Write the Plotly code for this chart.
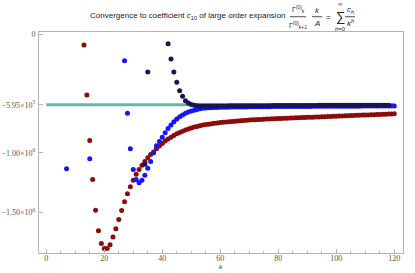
import plotly.graph_objects as go

# ---------------- data ----------------
red_k = list(range(13, 121))
red_v = [-91, -512, -896, -1225, -1483, -1657, -1763, -1806, -1806, -1775,
         -1710, -1640, -1561, -1486, -1412, -1345, -1286, -1231, -1180, -1141,
         -1104, -1073, -1042, -1014, -992,
         -966, -943, -921, -901, -884, -868, -853, -840, -828, -817,
         -807, -798, -790, -783, -777, -771, -766, -762, -758, -754,
         -751, -748, -745, -742, -740, -737, -735, -733, -731, -729,
         -727, -725, -724, -722, -721, -719, -718, -717, -715, -714,
         -713, -712, -711, -710, -709, -708, -707, -706, -705, -704,
         -703, -702, -701, -700, -699, -698, -697, -696, -695, -694,
         -693, -692, -691, -690, -689, -688, -687, -686, -685, -684,
         -683, -682, -681, -680, -679, -678, -677, -676, -675, -674,
         -673, -672, -671]

blue_k = [7, 15] + list(range(27, 121))
blue_v = [-1135, -1050,
          -223, -667, -966, -1141, -1225, -1253, -1231, -1189, -1130, -1073,
          -1000, -940, -905, -868, -830, -795, -765, -738, -715, -696,
          -680, -667, -656, -647, -640, -634, -629, -625, -622, -620,
          -619, -618, -617, -616, -616, -615, -615, -614, -614, -614,
          -613, -613, -613, -612, -612, -612, -612, -611, -611, -611,
          -611, -610, -610, -610, -610, -610, -610, -610, -609, -609,
          -609, -609, -609, -609, -609, -608, -608, -608, -608, -608,
          -608, -608, -608, -607, -607, -607, -607, -607, -607, -607,
          -607, -607, -606, -606, -606, -606, -606, -606, -606, -606,
          -606, -606, -606, -606]

navy_k = [34, 35] + list(range(42, 121))
navy_v = [-1095, -318,
          -80, -209, -318, -405, -476, -523, -560, -580,
          -592, -599, -603, -605, -606, -606, -606, -606, -605, -605,
          -605, -605, -605, -604, -604, -604, -604, -604, -603, -603,
          -603, -603, -603, -602, -602, -602, -602, -602, -601, -601,
          -601, -601, -601, -601, -601, -600, -600, -600, -600, -600,
          -600, -600, -600, -600, -599, -599, -599, -599, -599, -599,
          -599, -599, -599, -599, -599, -599, -599, -598, -598, -598,
          -598, -598, -598, -598, -598, -598, -598, -598, -598]

target_k = [0, 120]
target_v = [-595, -595]

y_ticks = [0, -595000, -1000000, -1500000]
y_text = ["0", "\u22125.95\u00d710<sup>5</sup>", "\u22121.00\u00d710<sup>6</sup>",
          "\u22121.50\u00d710<sup>6</sup>"]
x_ticks = [0, 20, 40, 60, 80, 100, 120]

scale = 1000

W, H = 415, 273
L, R, T, B = 39, 12, 32, 19.5


def px(x):
    return (x - L) / (W - L - R)


def py(y):
    return (H - B - y) / (H - T - B)


fig = go.Figure()
fig.add_trace(go.Scatter(x=target_k, y=[v * scale for v in target_v], mode="lines",
                         line=dict(color="#6db3ad", width=3), hoverinfo="skip"))
fig.add_trace(go.Scatter(x=red_k, y=[v * scale for v in red_v], mode="markers",
                         marker=dict(color="#8c0b0b", size=5)))
fig.add_trace(go.Scatter(x=blue_k, y=[v * scale for v in blue_v], mode="markers",
                         marker=dict(color="#1414ff", size=5)))
fig.add_trace(go.Scatter(x=navy_k, y=[v * scale for v in navy_v], mode="markers",
                         marker=dict(color="#161650", size=5)))

axis_common = dict(showgrid=False, zeroline=False, showline=True, mirror=True,
                   linecolor="#b4b4b4", linewidth=1, ticks="inside",
                   tickcolor="#b4b4b4", ticklen=4, automargin=False,
                   tickfont=dict(family="Liberation Serif", size=8, color="#555555"))

fig.update_layout(
    width=W, height=H,
    margin=dict(l=L, r=R, t=T, b=B),
    plot_bgcolor="white", paper_bgcolor="white",
    showlegend=False,
    xaxis=dict(range=[-2.5, 123], tickvals=x_ticks, ticklabelstandoff=-3,
               minor=dict(dtick=5, ticks="inside", ticklen=2, tickcolor="#b4b4b4"),
               **axis_common),
    yaxis=dict(range=[-1844000, 18500], tickvals=y_ticks, ticktext=y_text,
               ticklabelstandoff=1, **axis_common),
)

ann = []


def add(text, x, y, size=8, xanchor="center", italic=False, family="Liberation Sans"):
    if italic:
        text = "<i>" + text + "</i>"
    ann.append(dict(text=text, x=px(x), y=py(y), xref="paper", yref="paper",
                    xanchor=xanchor, yanchor="middle", showarrow=False,
                    font=dict(family=family, size=size, color="#222222")))


add("Convergence to coefficient <i>c</i><sub>10</sub> of large order expansion", 288, 16,
    size=8, xanchor="right")
# fraction Gamma_k / Gamma_{k+1}
add("\u0393<sup>(0)</sup><sub><i>k</i></sub>", 298, 9, size=7)
add("\u0393<sup>(0)</sup><sub><i>k</i>+1</sub>", 298, 25, size=7)
# k / A
add("k", 317, 10, size=8, italic=True)
add("A", 317, 23, size=8, italic=True)
add("=", 328, 17, size=8)
add("\u2211", 340, 16, size=13)
add("\u221e", 340, 4, size=6)
add("<i>h</i>=0", 340, 29, size=6)
add("c<sub>h</sub>", 350, 10, size=8, italic=True)
add("k<sup>h</sup>", 350, 23, size=8, italic=True)
# x axis title
add("k", 221, 268, size=7, italic=True, family="Liberation Serif")

fig.update_layout(annotations=ann)

shapes = []
for x0, x1 in [(290, 306), (312, 322), (345, 355)]:
    shapes.append(dict(type="line", xref="paper", yref="paper",
                       x0=px(x0), x1=px(x1), y0=py(16.7), y1=py(16.7),
                       line=dict(color="#222222", width=0.8)))
fig.update_layout(shapes=shapes)

fig.write_html("out.html", config={"displayModeBar": False},
               post_script="document.body.style.margin='0';document.body.style.overflow='hidden';")
